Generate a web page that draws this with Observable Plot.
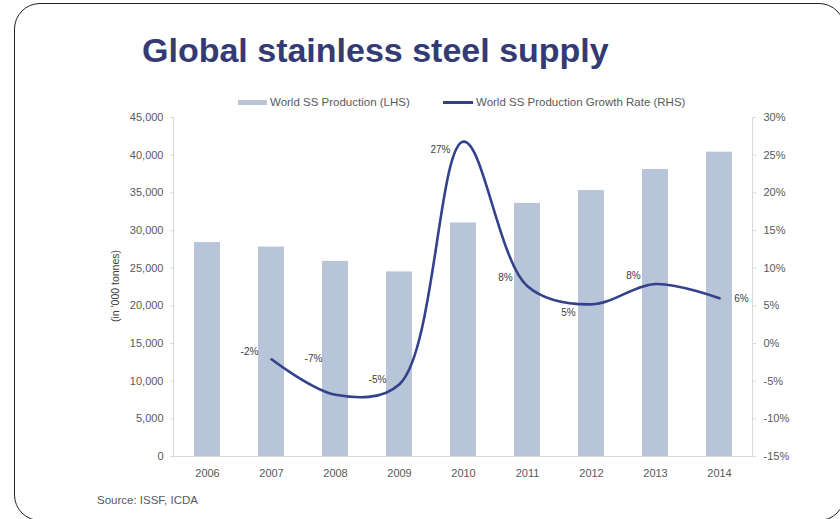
<!DOCTYPE html>
<html>
<head>
<meta charset="utf-8">
<script src="https://cdn.jsdelivr.net/npm/d3@7"></script>
<script src="https://cdn.jsdelivr.net/npm/@observablehq/plot@0.6"></script>
<style>
  html, body { margin: 0; padding: 0; background: #fff; }
  body { width: 840px; height: 519px; position: relative; overflow: hidden; font-family: "Liberation Sans", Arial, sans-serif; }
  #frame { position: absolute; left: 14px; top: 3px; width: 831px; height: 518px; border: 1.5px solid #222; border-radius: 26px; box-sizing: border-box; }
  #title { position: absolute; left: 142px; top: 33px; font-size: 34px; line-height: 34px; font-weight: bold; color: #343b74; white-space: nowrap; }
  .leg { position: absolute; font-size: 11.5px; color: #595959; white-space: nowrap; line-height: 13px; }
  .sw { position: absolute; }
  #source { position: absolute; left: 97px; top: 494px; font-size: 11.5px; color: #595959; line-height: 13px; }
  #ytitle { position: absolute; left: 115px; top: 286px; font-size: 10.5px; color: #404040; white-space: nowrap; transform: translate(-50%, -50%) rotate(-90deg); line-height: 12px; }
  #chart { position: absolute; left: 0; top: 0; }
</style>
</head>
<body>
<div id="frame"></div>
<div id="chart"></div>
<div id="title">Global stainless steel supply</div>
<div class="sw" id="sw1"></div><div class="leg" id="leg1"></div>
<div class="sw" id="sw2"></div><div class="leg" id="leg2"></div>
<div id="ytitle">(in '000 tonnes)</div>
<div id="source">Source: ISSF, ICDA</div>
<script>
// ---- data ----
const years = ["2006", "2007", "2008", "2009", "2010", "2011", "2012", "2013", "2014"];
const production = [28400, 27800, 25900, 24500, 31000, 33600, 35300, 38100, 40400]; // '000 tonnes
const growth = [null, -2.1, -6.8, -5.4, 26.8, 7.6, 5.2, 7.9, 6.0]; // %
const leftTicks = [0, 5000, 10000, 15000, 20000, 25000, 30000, 35000, 40000, 45000];
const rightTicks = [-15, -10, -5, 0, 5, 10, 15, 20, 25, 30];
const seriesNames = ["World SS Production (LHS)", "World SS Production Growth Rate (RHS)"];

// ---- label placement (style) ----
const labelPlacement = ["", "upLeft", "farUpLeft", "left", "downLeft", "upLeft", "downLeft", "upLeft", "right"];
const placementOffsets = {upLeft: [-22, -8], farUpLeft: [-22, -36], left: [-22, -4], downLeft: [-23, 8], right: [22, 0]};

const barColor = "#b8c4d7";
const lineColor = "#33428a";
const axisColor = "#d9d9d9";
const textColor = "#595959";

// legend
const sw1 = document.getElementById("sw1");
Object.assign(sw1.style, {left: "238px", top: "100px", width: "29px", height: "5px", background: barColor});
const leg1 = document.getElementById("leg1");
leg1.textContent = seriesNames[0];
Object.assign(leg1.style, {left: "270px", top: "96px"});
const sw2 = document.getElementById("sw2");
Object.assign(sw2.style, {left: "443px", top: "101px", width: "30px", height: "2.5px", background: lineColor});
const leg2 = document.getElementById("leg2");
leg2.textContent = seriesNames[1];
Object.assign(leg2.style, {left: "476px", top: "96px"});

// scales: right axis mapped onto left axis domain
const yMax = d3.max(leftTicks), yMin = d3.min(leftTicks);
const gMin = d3.min(rightTicks), gMax = d3.max(rightTicks);
const toLeft = g => yMin + (g - gMin) / (gMax - gMin) * (yMax - yMin);
const fromLeft = v => gMin + (v - yMin) / (yMax - yMin) * (gMax - gMin);

const rows = years.map((year, i) => ({year, prod: production[i], growth: growth[i], place: labelPlacement[i]}));
const lineRows = rows.filter(d => d.growth != null);

const labelMarks = Object.entries(placementOffsets).map(([name, [dx, dy]]) =>
  Plot.text(lineRows.filter(d => d.place === name), {
    x: "year", y: d => toLeft(d.growth), text: d => Math.round(d.growth) + "%",
    dx, dy, fontSize: 10, fill: "#404040"
  })
);

const chart = Plot.plot({
  width: 840,
  height: 519,
  marginLeft: 173,
  marginRight: 88,
  marginTop: 117,
  marginBottom: 63,
  style: {fontFamily: "Liberation Sans, Arial, sans-serif", background: "transparent"},
  x: {domain: years, paddingInner: 0.6, paddingOuter: 0.3, axis: null, label: null},
  y: {domain: [yMin, yMax], axis: null, label: null},
  marks: [
    Plot.barY(rows, {x: "year", y: "prod", fill: barColor}),
    Plot.frame({anchor: "left", stroke: axisColor}),
    Plot.frame({anchor: "right", stroke: axisColor}),
    Plot.frame({anchor: "bottom", stroke: axisColor}),
    Plot.axisY({anchor: "left", label: null, ticks: leftTicks, tickFormat: d3.format(","), tickSize: 3, tickPadding: 7, fontSize: 11, stroke: axisColor, fill: textColor}),
    Plot.axisY({anchor: "right", label: null, ticks: rightTicks.map(toLeft), tickFormat: v => Math.round(fromLeft(v)) + "%", tickSize: 3, tickPadding: 8, fontSize: 11, stroke: axisColor, fill: textColor}),
    Plot.axisX({anchor: "bottom", label: null, tickSize: 0, tickPadding: 13, fontSize: 11, fill: textColor}),
    Plot.line(lineRows, {x: "year", y: d => toLeft(d.growth), curve: "catmull-rom", stroke: lineColor, strokeWidth: 2.6}),
    ...labelMarks
  ]
});
document.getElementById("chart").appendChild(chart);
</script>
</body>
</html>
